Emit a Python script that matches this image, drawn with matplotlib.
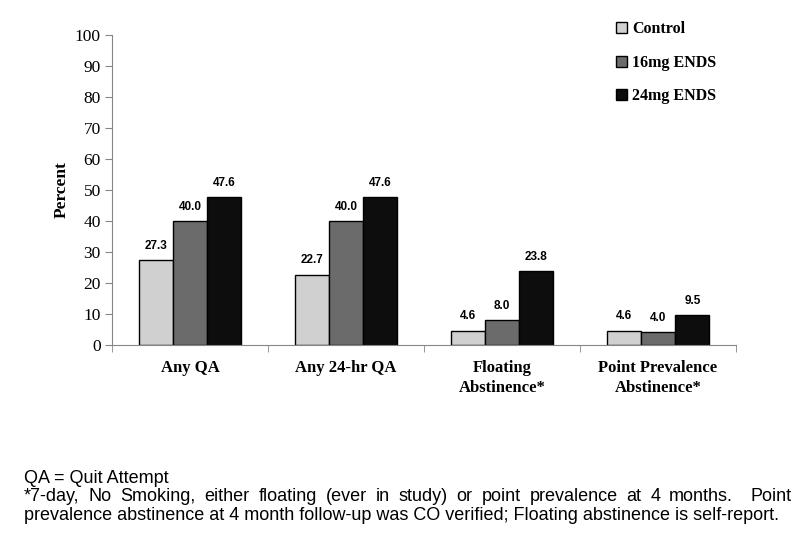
import matplotlib
matplotlib.use("Agg")
import matplotlib.pyplot as plt
import numpy as np

categories = ["Any QA", "Any 24-hr QA", "Floating\nAbstinence*", "Point Prevalence\nAbstinence*"]
series_names = ["Control", "16mg ENDS", "24mg ENDS"]
control = [27.3, 22.7, 4.6, 4.6]
ends16 = [40.0, 40.0, 8.0, 4.0]
ends24 = [47.6, 47.6, 23.8, 9.5]
colors = ["#d0d0d0", "#6b6b6b", "#0d0d0d"]

serif = "Liberation Serif"
sans = "Liberation Sans"

fig = plt.figure(figsize=(8, 5.44), dpi=100)
ax = fig.add_axes([0.14, 0.366, 0.78, 0.57])

x = np.arange(len(categories))
w = 0.22
for i, (name, vals) in enumerate(zip(series_names, [control, ends16, ends24])):
    bars = ax.bar(x + (i - 1) * w, vals, w, color=colors[i], edgecolor="black",
                  linewidth=1.0, label=name)
    for b, v in zip(bars, vals):
        ax.annotate(f"{v:.1f}", xy=(b.get_x() + b.get_width() / 2, v),
                    xytext=(0, 6), textcoords="offset points",
                    ha="center", va="bottom", fontsize=8.5, fontweight="bold",
                    family=sans)

ax.set_xlim(-0.5, len(categories) - 0.5)
ax.set_ylim(0, 100)
ax.set_yticks(np.arange(0, 101, 10))
ax.set_yticklabels([str(v) for v in range(0, 101, 10)], family=serif, fontsize=12.5)
ax.set_xticks(x)
ax.set_xticklabels(categories, family=serif, fontsize=12, fontweight="bold",
                   linespacing=1.3)
ax.set_xticks(np.arange(-0.5, len(categories)), minor=True)
ax.tick_params(axis="x", which="major", length=0, pad=11)
ax.tick_params(axis="x", which="minor", length=5, color="#868686")
ax.tick_params(axis="y", length=5, color="#868686", pad=3)
ax.set_ylabel("Percent", family=serif, fontsize=12.5, fontweight="bold", labelpad=4)

for s in ["top", "right"]:
    ax.spines[s].set_visible(False)
for s in ["left", "bottom"]:
    ax.spines[s].set_color("#868686")

leg = ax.legend(loc="upper left", bbox_to_anchor=(0.785, 1.09), frameon=False,
                prop={"family": serif, "weight": "bold", "size": 11.5},
                handlelength=0.7, handleheight=0.7, handletextpad=0.3,
                labelspacing=1.1)

# footnote; second line is justified like the original
fs = 13
x0, x1 = 0.03, 0.99
fig.text(x0, 0.121, "QA = Quit Attempt", family=sans, fontsize=fs, va="center")
fig.text(x0, 0.053, "prevalence abstinence at 4 month follow-up was CO verified; Floating abstinence is self-report.",
         family=sans, fontsize=fs, va="center")

line2 = "*7-day, No Smoking, either floating (ever in study) or point prevalence at 4 months.  Point"
words = line2.split(" ")
renderer = fig.canvas.get_renderer()
figw = fig.bbox.width
texts = [fig.text(0, 0.0865, wd, family=sans, fontsize=fs, va="center") for wd in words]
widths = [t.get_window_extent(renderer).width / figw if wd else 0 for t, wd in zip(texts, words)]
gap = (x1 - x0 - sum(widths)) / (len(words) - 1)
pos = x0
for t, wd in zip(texts, widths):
    t.set_x(pos)
    pos += wd + gap

fig.savefig("out.png", dpi=100)
